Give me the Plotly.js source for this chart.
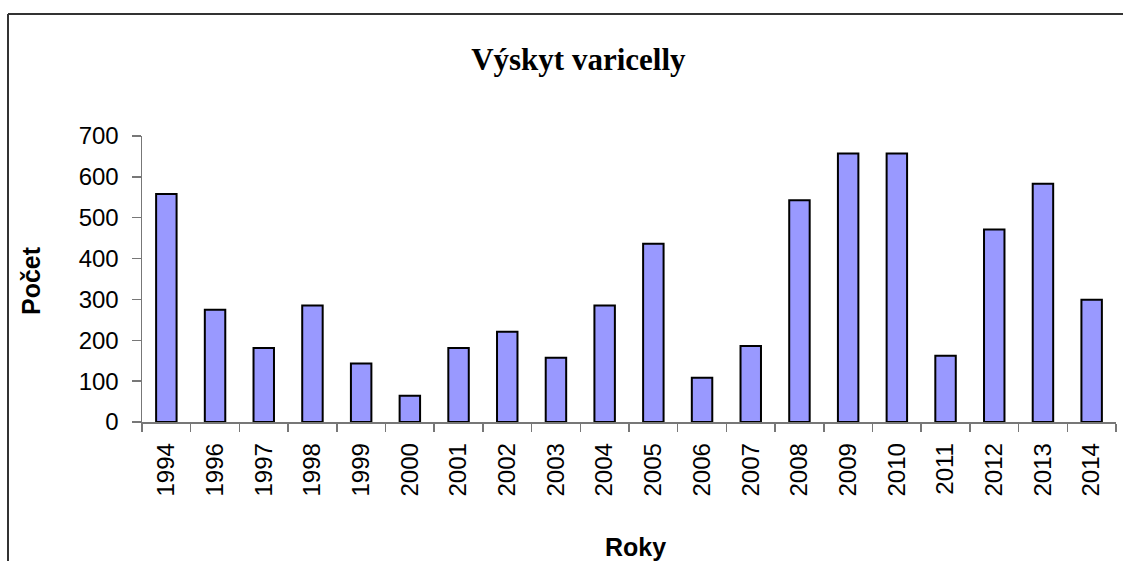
<!DOCTYPE html>
<html>
<head>
<meta charset="utf-8">
<script src="https://cdn.plot.ly/plotly-3.0.1.min.js"></script>
<style>
  html, body { margin: 0; padding: 0; background: #fff; }
  #chart { width: 1123px; height: 561px; }
</style>
</head>
<body>
<div id="chart"></div>
<script>
// years on the category axis (1995 is missing in the source)
var roky = ["1994", "1996", "1997", "1998", "1999", "2000", "2001", "2002", "2003", "2004",
            "2005", "2006", "2007", "2008", "2009", "2010", "2011", "2012", "2013", "2014"];
// number of cases
var pocet = [558, 275, 181, 285, 143, 64, 181, 221, 157, 285,
             436, 108, 186, 543, 657, 657, 162, 471, 583, 299];
var yTicks = [0, 100, 200, 300, 400, 500, 600, 700];

// plot area in pixels, used to place the frame in paper units
var L = 142, R = 1116, T = 136, B = 422;
function px(x) { return (x - L) / (R - L); }
function py(y) { return (B - y) / (B - T); }

var trace = {
  x: roky,
  y: pocet,
  type: 'bar',
  marker: { color: '#9999FF', line: { color: '#000000', width: 2 } },
  hoverinfo: 'x+y'
};

var layout = {
  width: 1123, height: 561,
  margin: { l: L, r: 1123 - R, t: T, b: 561 - B, pad: 0 },
  paper_bgcolor: '#ffffff',
  plot_bgcolor: '#ffffff',
  showlegend: false,
  bargap: 0.58,
  font: { family: 'Liberation Sans, Arial, sans-serif', size: 24, color: '#000' },
  title: {
    text: '<b>Výskyt varicelly</b>',
    font: { family: 'Liberation Serif, Times New Roman, serif', size: 31, color: '#000' },
    xref: 'container', yref: 'container',
    x: 0.515, y: 0.895, xanchor: 'center', yanchor: 'middle'
  },
  xaxis: {
    type: 'category',
    tickangle: -90,
    showline: true, linecolor: '#777', linewidth: 1.5,
    ticks: 'outside', ticklen: 8, tickcolor: '#777', tickwidth: 1.5,
    tickson: 'boundaries',
    ticklabelstandoff: 10,
    showgrid: false, zeroline: false,
    tickfont: { size: 24 },
    automargin: false
  },
  yaxis: {
    range: [0, 700],
    tickvals: yTicks,
    showline: true, linecolor: '#777', linewidth: 1.5,
    ticks: 'outside', ticklen: 9, tickcolor: '#777', tickwidth: 1.5,
    ticklabelstandoff: 8,
    showgrid: false, zeroline: false,
    tickfont: { size: 24 },
    automargin: false
  },
  annotations: [
    { text: '<b>Počet</b>', xref: 'paper', yref: 'paper',
      x: px(31), y: py(281), textangle: -90, showarrow: false,
      font: { size: 25 }, xanchor: 'center', yanchor: 'middle' },
    { text: '<b>Roky</b>', xref: 'paper', yref: 'paper',
      x: px(635), y: py(547), showarrow: false,
      font: { size: 25 }, xanchor: 'center', yanchor: 'middle' }
  ],
  shapes: [
    { type: 'line', xref: 'paper', yref: 'paper',
      x0: px(8), x1: px(1123), y0: py(14), y1: py(14),
      line: { color: '#333', width: 2 } },
    { type: 'line', xref: 'paper', yref: 'paper',
      x0: px(8), x1: px(8), y0: py(14), y1: py(561),
      line: { color: '#333', width: 2 } }
  ]
};

Plotly.newPlot('chart', [trace], layout, { displayModeBar: false, staticPlot: true });
</script>
</body>
</html>
